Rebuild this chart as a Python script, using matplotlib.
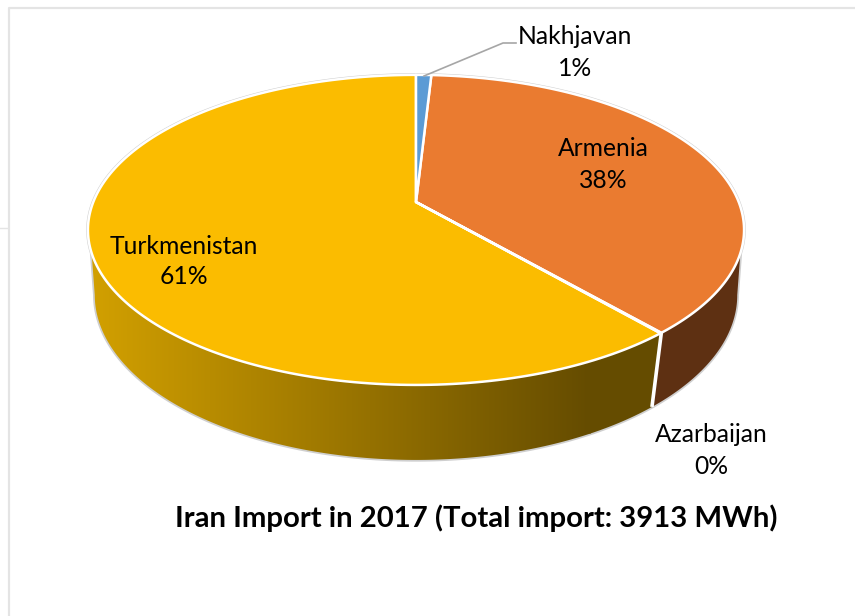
import numpy as np
import matplotlib
matplotlib.use('Agg')
import matplotlib.pyplot as plt
from matplotlib.colors import LinearSegmentedColormap
from matplotlib.patches import Polygon

plt.rcParams['font.family'] = ['Lato', 'DejaVu Sans']

# Import in MWh (clockwise from the top)
names = ['Nakhjavan', 'Armenia', 'Azarbaijan', 'Turkmenistan']
values = [35, 1475, 2, 2401]
percent_labels = ['1%', '38%', '0%', '61%']
top_colors = ['#5B9BD5', '#EA7B30', '#A5A5A5', '#FBBC00']
title = 'Iran Import in 2017 (Total import: 3913 MWh)'

label_pos = [(575, 37), (603, 149), (711, 435), (184, 246)]


# perspective projection of the pie disc, theta clockwise from top in degrees
def project(theta, x0, y0, bx, by, k=0.18):
    t = np.radians(theta)
    w = 1 + k * np.cos(t)
    return x0 + bx * np.sin(t) / w, y0 - by * np.cos(t) / w


def top_rim(theta):
    return project(theta, 416, 202, 322.7, 150)


def low_rim(theta):
    return project(theta, 416, 265.3, 316, 159.6)


def arc(func, a, b, n=200):
    x, y = func(np.linspace(a, b, n))
    return np.column_stack([x, y])


fig = plt.figure(figsize=(8.55, 6.16), dpi=100)
ax = fig.add_axes([0, 0, 1, 1])
ax.set_xlim(0, 855)
ax.set_ylim(616, 0)
ax.axis('off')

# faint frame left over from the page
ax.plot([855, 9, 9], [8, 8, 616], color='#E4E4E4', lw=1.6, zorder=1)
ax.plot([0, 7], [228, 228], color='#E4E4E4', lw=1, zorder=1)

edges = np.concatenate([[0], np.cumsum(values)]) / sum(values) * 360
wall_l, wall_r = 108.7, 251.3
low_l, low_r = 100.4, 259.6
split = edges[2]
low_split = split + 1.0  # lower rim meets the gap a little further round

# outline shadow round the whole shape
outline = np.vstack([arc(top_rim, wall_r, 360 + wall_l), arc(low_rim, low_l, low_r)])
ax.add_patch(Polygon(outline, closed=True, fc='none', ec='#CFCFCF', lw=2.5, zorder=2))

# side walls
right_wall = np.vstack([arc(top_rim, wall_l, split), arc(low_rim, low_split, low_l)])
ax.add_patch(Polygon(right_wall, closed=True, fc='#5E3012', ec='none', zorder=3))

left_wall = np.vstack([arc(top_rim, edges[3], wall_r), arc(low_rim, low_r, low_split)])
wall_patch = Polygon(left_wall, closed=True, fc='none', ec='none', zorder=3)
ax.add_patch(wall_patch)
wall_cmap = LinearSegmentedColormap.from_list('wall', ['#D2A000', '#654C00'])
grad = np.linspace(0, 1, 256).reshape(1, -1)
im = ax.imshow(grad, extent=[90, 590, 616, 0], cmap=wall_cmap, aspect='auto', zorder=3)
im.set_clip_path(wall_patch)
ax.add_patch(Polygon(left_wall[left_wall[:, 0] >= 589], closed=True, fc='#654C00', ec='none', zorder=3))
ax.set_xlim(0, 855)
ax.set_ylim(616, 0)

# white gap between the walls
gx0, gy0 = top_rim(split)
gx1, gy1 = low_rim(low_split)
ax.plot([gx0, gx1], [gy0, gy1], color='white', lw=2.6, zorder=4, solid_capstyle='butt')

# top of the pie
apex = project(0, 416, 202, 0, 0)
for i in [3, 1, 0, 2]:
    pts = np.vstack([[apex], arc(top_rim, edges[i], edges[i + 1])])
    ax.add_patch(Polygon(pts, closed=True, fc=top_colors[i], ec='white', lw=1.8, joinstyle='round', zorder=5))

# leader line to Nakhjavan
ax.plot([424, 503, 516], [76, 43, 43], color='#A6A6A6', lw=1.2, zorder=6)

for name, pct, (lx, ly) in zip(names, percent_labels, label_pos):
    ax.text(lx, ly, name, ha='center', va='center', fontsize=17.7, color='black', zorder=7)
    ax.text(lx, ly + 31, pct, ha='center', va='center', fontsize=17.7, color='black', zorder=7)

ax.text(476, 518, title, ha='center', va='center', fontsize=21.1, fontweight='bold', color='black', zorder=7)

fig.savefig('out.png', dpi=100)
